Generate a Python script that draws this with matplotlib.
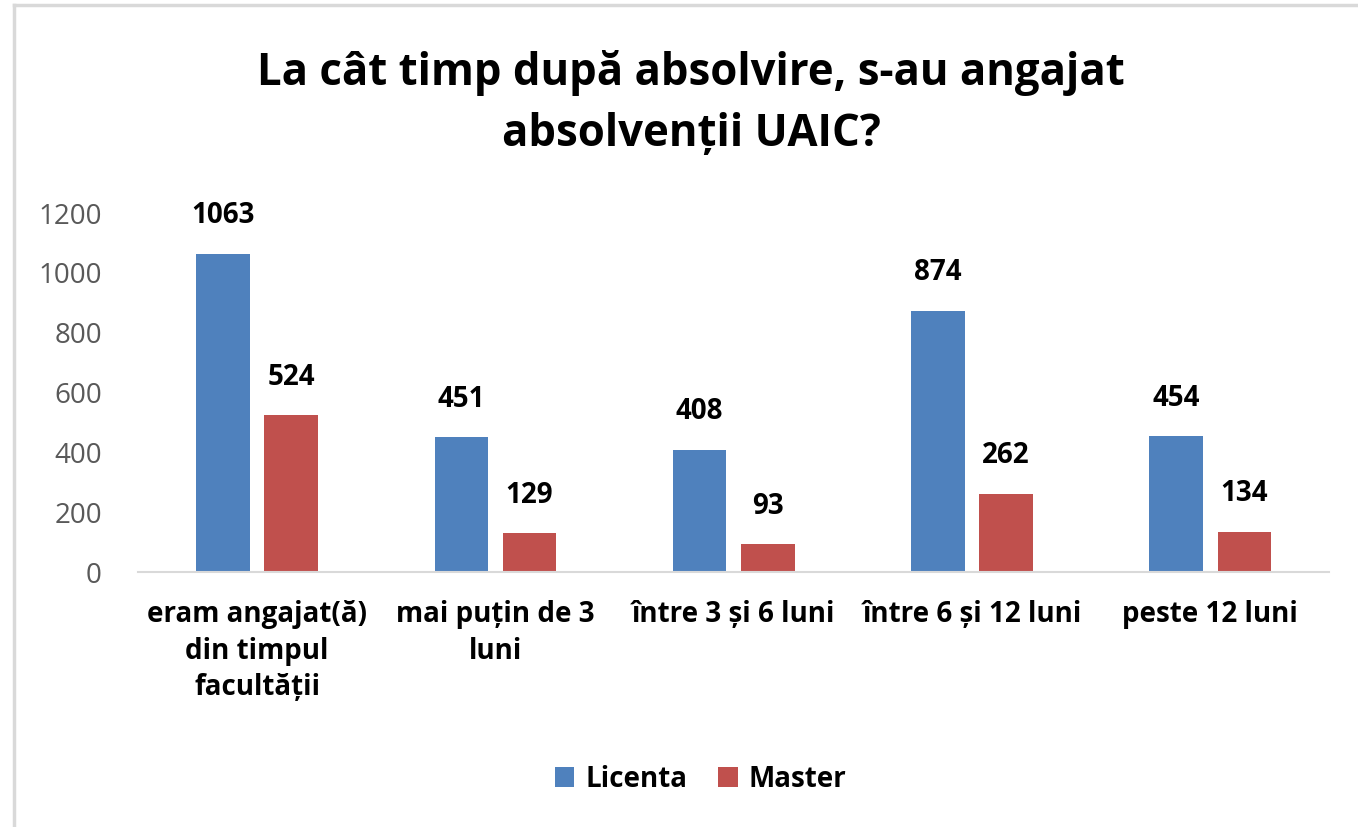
import matplotlib.pyplot as plt
import numpy as np
from matplotlib.lines import Line2D

categories = ["eram angajat(ă)\ndin timpul\nfacultății", "mai puțin de 3\nluni",
              "între 3 și 6 luni", "între 6 și 12 luni", "peste 12 luni"]
licenta = [1063, 451, 408, 874, 454]
master = [524, 129, 93, 262, 134]
yticks = [0, 200, 400, 600, 800, 1000, 1200]

plt.rcParams['font.family'] = ['Open Sans', 'DejaVu Sans']

fig = plt.figure(figsize=(13.58, 8.27), dpi=100)
ax = fig.add_axes([0.1016, 0.3083, 0.8774, 0.4341])

x = np.arange(len(categories))
w = 0.225
b1 = ax.bar(x - 0.143, licenta, w, color='#4F81BD', label='Licenta')
b2 = ax.bar(x + 0.143, master, w, color='#C0504D', label='Master')

for bars in (b1, b2):
    for rect in bars:
        ax.annotate(f"{int(rect.get_height())}",
                    (rect.get_x() + rect.get_width() / 2, rect.get_height()),
                    xytext=(0, 17), textcoords='offset points', ha='center', va='bottom',
                    fontsize=20, fontweight='bold', color='black')

ax.set_xlim(-0.5, len(categories) - 0.5)
ax.set_ylim(0, 1200)
ax.set_yticks(yticks)
ax.tick_params(axis='y', length=0, labelsize=20, labelcolor='#595959', pad=26)
ax.set_xticks(x)
ax.set_xticklabels(categories, fontsize=20, fontweight='bold', linespacing=1.35)
ax.tick_params(axis='x', length=0, pad=20)
for s in ['top', 'right', 'left']:
    ax.spines[s].set_visible(False)
ax.spines['bottom'].set_color('#D9D9D9')
ax.spines['bottom'].set_linewidth(1.5)

fig.text(0.509, 0.875, "La cât timp după absolvire, s-au angajat\nabsolvenții UAIC?",
         ha='center', va='center', fontsize=31.5, fontweight='bold', linespacing=1.45)

fig.legend(handles=[b1, b2], loc='center', bbox_to_anchor=(0.516, 0.058), ncol=2,
           frameon=False, prop={'size': 20, 'weight': 'bold'}, handlelength=0.7,
           handleheight=0.7, handletextpad=0.4, columnspacing=1.1)

# outer chart frame (left and top edges visible)
fig.add_artist(Line2D([14 / 1358, 14 / 1358], [0, 1 - 5 / 827], color='#D9D9D9', lw=2.5))
fig.add_artist(Line2D([14 / 1358, 1], [1 - 5 / 827, 1 - 5 / 827], color='#D9D9D9', lw=2.5))

fig.savefig('out.png', dpi=100)
